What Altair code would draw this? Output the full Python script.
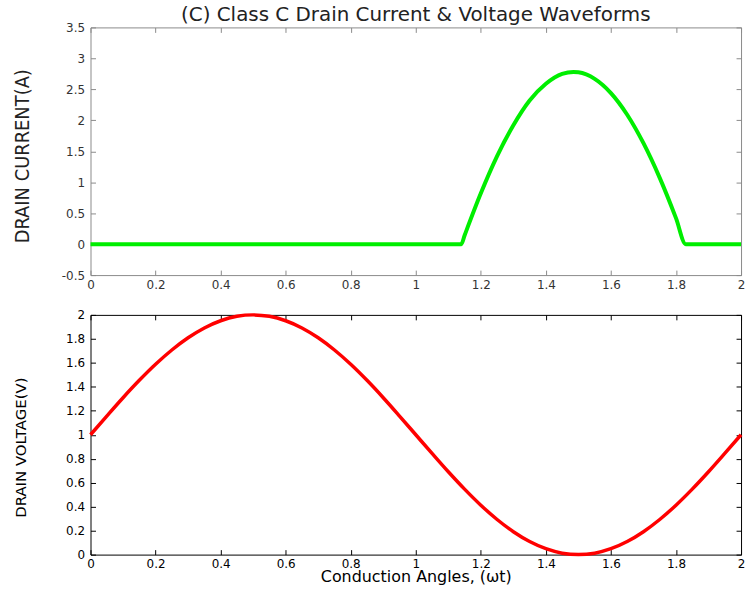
import altair as alt
import pandas as pd

# ---- data ----
angle_current = [0.0, 0.2, 0.4, 0.6, 0.8, 1.0, 1.14, 1.15, 1.2, 1.25, 1.3, 1.35, 1.4,
                 1.45, 1.485, 1.5, 1.55, 1.6, 1.65, 1.7, 1.75, 1.8, 1.83, 1.9, 2.0]
drain_current = [0, 0, 0, 0, 0, 0, 0, 0.14, 0.82, 1.42, 1.92, 2.32, 2.59,
                 2.75, 2.78, 2.775, 2.67, 2.44, 2.09, 1.63, 1.07, 0.42, 0, 0, 0]

angle_voltage = [0.0, 0.05, 0.1, 0.15, 0.2, 0.25, 0.3, 0.35, 0.4, 0.45, 0.5,
                 0.55, 0.6, 0.65, 0.7, 0.75, 0.8, 0.85, 0.9, 0.95, 1.0,
                 1.05, 1.1, 1.15, 1.2, 1.25, 1.3, 1.35, 1.4, 1.45, 1.5,
                 1.55, 1.6, 1.65, 1.7, 1.75, 1.8, 1.85, 1.9, 1.95, 2.0]
drain_voltage = [1.0, 1.156, 1.309, 1.454, 1.588, 1.707, 1.809, 1.891, 1.951, 1.988, 2.0,
                 1.988, 1.951, 1.891, 1.809, 1.707, 1.588, 1.454, 1.309, 1.156, 1.0,
                 0.844, 0.691, 0.546, 0.412, 0.293, 0.191, 0.109, 0.049, 0.012, 0.0,
                 0.012, 0.049, 0.109, 0.191, 0.293, 0.412, 0.546, 0.691, 0.844, 1.0]

x_ticks = [0, 0.2, 0.4, 0.6, 0.8, 1, 1.2, 1.4, 1.6, 1.8, 2]
current_ticks = [-0.5, 0, 0.5, 1, 1.5, 2, 2.5, 3, 3.5]
voltage_ticks = [0, 0.2, 0.4, 0.6, 0.8, 1, 1.2, 1.4, 1.6, 1.8, 2]

df_cur = pd.DataFrame({"angle": angle_current, "current": drain_current})
df_volt = pd.DataFrame({"angle": angle_voltage, "voltage": drain_voltage})

LABEL_FONT = "DejaVu Sans"
INWARD = {"expr": "-5"}


def axis(values, color, label_color, orient=None, labels=True, title=None, pad=9, **kw):
    opts = dict(values=values, grid=False, tickSize=INWARD, tickColor=color,
                domainColor=color, domainWidth=1, tickWidth=1,
                labelFont=LABEL_FONT, labelFontSize=12, labelColor=label_color,
                labelFlush=False, labelExpr="'' + datum.value", labelPadding=pad,
                labels=labels, title=title)
    if orient is not None:
        opts["orient"] = orient
    opts.update(kw)
    return alt.Axis(**opts)


x_scale = alt.Scale(domain=[0, 2], nice=False, zero=False)

# ---- top panel: drain current ----
cur_scale = alt.Scale(domain=[-0.5, 3.5], nice=False, zero=False)
GRAY = "#8a8a8a"
cur_line = alt.Chart(df_cur).mark_line(color="#00ee00", strokeWidth=4,
                                       interpolate="monotone").encode(
    x=alt.X("angle:Q", scale=x_scale, axis=axis(x_ticks, GRAY, "#333333")),
    y=alt.Y("current:Q", scale=cur_scale,
            axis=axis(current_ticks, GRAY, "#333333", pad=11, title="DRAIN  CURRENT(A)",
                      titleFont="DejaVu Sans Condensed, DejaVu Sans, sans-serif",
                      titleFontSize=20, titleFontWeight="normal", titleColor="#222222",
                      titlePadding=29, titleY=129)),
)
cur_frame = alt.Chart(df_cur).mark_line(opacity=0).encode(
    x=alt.X("angle:Q", scale=x_scale, axis=axis(x_ticks, GRAY, "#333333", orient="top", labels=False)),
    y=alt.Y("current:Q", scale=cur_scale, axis=axis(current_ticks, GRAY, "#333333", orient="right", labels=False)),
)
top = alt.layer(cur_line, cur_frame).resolve_axis(x="independent", y="independent").properties(
    width=654, height=249,
    title=alt.Title("(C) Class C Drain Current & Voltage Waveforms", font="DejaVu Sans",
                    fontSize=20, fontWeight="normal", color="#222222", frame="group",
                    anchor="middle", offset=-4),
)

# ---- bottom panel: drain voltage ----
volt_scale = alt.Scale(domain=[0, 2], nice=False, zero=False)
volt_line = alt.Chart(df_volt).mark_line(color="#ff0000", strokeWidth=3.5,
                                         interpolate="monotone").encode(
    x=alt.X("angle:Q", scale=x_scale,
            axis=axis(x_ticks, "black", "black", title="Conduction Angles, (\u03c9t)",
                      titleFont="DejaVu Sans", titleFontSize=16, titleFontWeight="normal",
                      titleColor="black", titlePadding=-1)),
    y=alt.Y("voltage:Q", scale=volt_scale,
            axis=axis(voltage_ticks, "black", "black", pad=11, title="DRAIN VOLTAGE(V)",
                      titleFont="DejaVu Sans", titleFontSize=15, titleFontWeight="normal",
                      titleColor="black", titlePadding=37, titleY=133)),
)
volt_frame = alt.Chart(df_volt).mark_line(opacity=0).encode(
    x=alt.X("angle:Q", scale=x_scale, axis=axis(x_ticks, "black", "black", orient="top", labels=False)),
    y=alt.Y("voltage:Q", scale=volt_scale, axis=axis(voltage_ticks, "black", "black", orient="right", labels=False)),
)
bottom = alt.layer(volt_line, volt_frame).resolve_axis(x="independent", y="independent").properties(
    width=654, height=241,
)

chart = alt.vconcat(top, bottom, spacing=40, bounds="flush").properties(
    padding={"left": 12, "top": 4, "right": 0, "bottom": 0},
    background="white",
).configure_view(stroke=None)

chart.save("out.html", embed_options={"renderer": "svg", "actions": False})
